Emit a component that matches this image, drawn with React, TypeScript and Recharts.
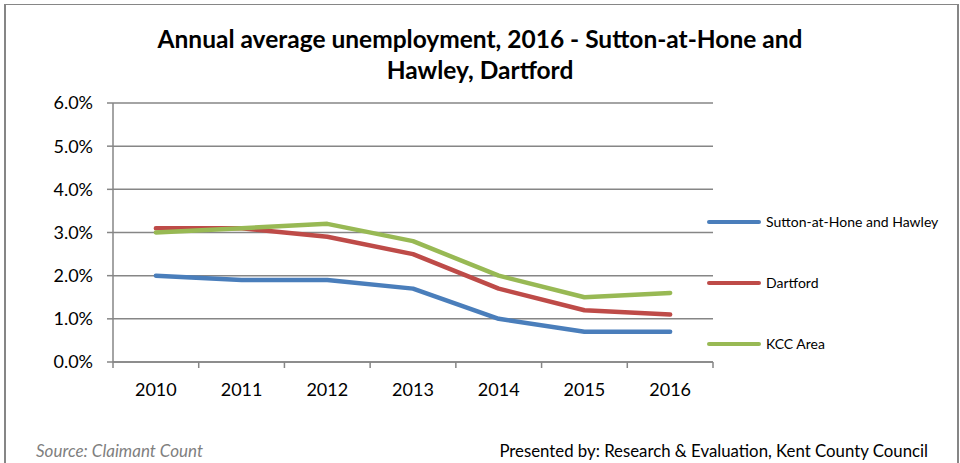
import React from "react";
import { CartesianGrid, Legend, Line, LineChart, XAxis, YAxis } from "recharts";

const years = ["2010", "2011", "2012", "2013", "2014", "2015", "2016"];
const sutton = [2.0, 1.9, 1.9, 1.7, 1.0, 0.7, 0.7];
const dartford = [3.1, 3.1, 2.9, 2.5, 1.7, 1.2, 1.1];
const kcc = [3.0, 3.1, 3.2, 2.8, 2.0, 1.5, 1.6];
const yTicks = [0, 1, 2, 3, 4, 5, 6];

const series = [
    { key: "sutton", name: "Sutton-at-Hone and Hawley", color: "#4A7EBB", values: sutton },
    { key: "dartford", name: "Dartford", color: "#BE4B48", values: dartford },
    { key: "kcc", name: "KCC Area", color: "#98B954", values: kcc },
];

const data = years.map((year, i) => {
    const row: any = { year };
    series.forEach((s) => (row[s.key] = s.values[i]));
    return row;
});

const W = 960;
const H = 463;
const PLOT_LEFT = 113;
const PLOT_RIGHT = 713;
const PLOT_TOP = 103;
const PLOT_BOTTOM = 362;
const BAND = (PLOT_RIGHT - PLOT_LEFT) / years.length;
const GRID = "#868686";
const FONT = "Lato, 'Open Sans', sans-serif";

const XTick = (props: any) => {
    const { x, index } = props;
    const last = index === years.length - 1;
    return (
        <g>
            <line x1={x - BAND / 2} x2={x - BAND / 2} y1={PLOT_BOTTOM} y2={PLOT_BOTTOM + 6} stroke={GRID} strokeWidth={1.5} />
            {last && (
                <line x1={x + BAND / 2} x2={x + BAND / 2} y1={PLOT_BOTTOM} y2={PLOT_BOTTOM + 6} stroke={GRID} strokeWidth={1.5} />
            )}
            <text x={x} y={PLOT_BOTTOM + 34} textAnchor="middle" fontFamily={FONT} fontSize={18} fill="#000">
                {props.payload.value}
            </text>
        </g>
    );
};

const LegendContent = () => (
    <div style={{ fontFamily: FONT, fontSize: 14, color: "#000" }}>
        {series.map((s) => (
            <div key={s.key} style={{ height: 61, display: "flex", alignItems: "flex-start" }}>
                <div style={{ width: 54, height: 4, borderRadius: 2, background: s.color, marginTop: 8, marginRight: 5 }} />
                <span style={{ lineHeight: "20px" }}>{s.name}</span>
            </div>
        ))}
    </div>
);

export default function App() {
    return (
        <div style={{ position: "absolute", left: 0, top: 0, width: W, height: H, background: "#fff", overflow: "hidden" }}>
            <div
                style={{
                    position: "absolute",
                    left: 4,
                    top: 4,
                    width: 951,
                    height: 480,
                    border: `2px solid ${GRID}`,
                    borderTopWidth: 1.5,
                }}
            />
            <div
                style={{
                    position: "absolute",
                    left: 0,
                    top: 23,
                    width: W,
                    textAlign: "center",
                    fontFamily: FONT,
                    fontWeight: 700,
                    fontSize: 24.5,
                    lineHeight: "31px",
                    color: "#000",
                }}
            >
                Annual average unemployment, 2016 - Sutton-at-Hone and
                <br />
                Hawley, Dartford
            </div>
            <LineChart
                width={W}
                height={H}
                data={data}
                margin={{ top: PLOT_TOP, right: W - PLOT_RIGHT, bottom: H - PLOT_BOTTOM - 30, left: 0 }}
                style={{ position: "absolute", left: 0, top: 0 }}
            >
                <CartesianGrid vertical={false} stroke={GRID} strokeWidth={1.5} />
                <XAxis
                    dataKey="year"
                    height={30}
                    padding={{ left: BAND / 2, right: BAND / 2 }}
                    axisLine={{ stroke: GRID, strokeWidth: 1.5 }}
                    tickLine={false}
                    tick={<XTick />}
                    interval={0}
                />
                <YAxis
                    width={PLOT_LEFT}
                    domain={[0, 6]}
                    ticks={yTicks}
                    tickFormatter={(v: number) => `${v.toFixed(1)}%`}
                    axisLine={{ stroke: GRID, strokeWidth: 1.5 }}
                    tickLine={{ stroke: GRID, strokeWidth: 1.5 }}
                    tickSize={6}
                    tickMargin={14}
                    tick={{ fontFamily: FONT, fontSize: 18, fill: "#000" }}
                />
                <Legend
                    layout="vertical"
                    align="center"
                    verticalAlign="middle"
                    content={<LegendContent />}
                    wrapperStyle={{ left: 707, top: 212, width: 250 }}
                />
                {series.map((s) => (
                    <Line
                        key={s.key}
                        dataKey={s.key}
                        name={s.name}
                        stroke={s.color}
                        strokeWidth={4.5}
                        strokeLinecap="round"
                        strokeLinejoin="round"
                        dot={false}
                        activeDot={false}
                        type="linear"
                        isAnimationActive={false}
                    />
                ))}
            </LineChart>
            <div
                style={{
                    position: "absolute",
                    left: 36,
                    top: 440,
                    fontFamily: FONT,
                    fontStyle: "italic",
                    fontSize: 17,
                    lineHeight: "22px",
                    color: "#7f7f7f",
                }}
            >
                Source: Claimant Count
            </div>
            <div
                style={{
                    position: "absolute",
                    right: W - 928,
                    top: 440,
                    fontFamily: FONT,
                    fontSize: 16.8,
                    lineHeight: "22px",
                    color: "#000",
                }}
            >
                Presented by: Research &amp; Evaluation, Kent County Council
            </div>
        </div>
    );
}
